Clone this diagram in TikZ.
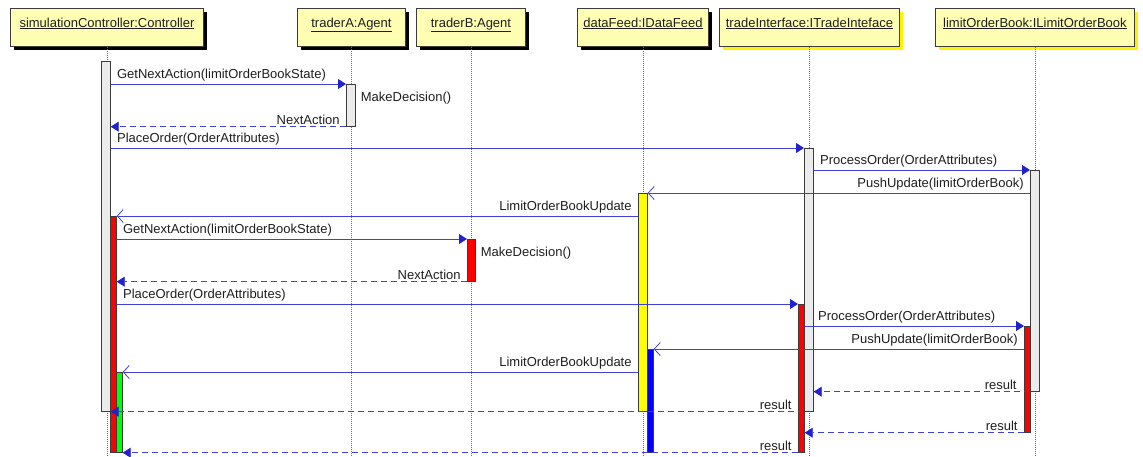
\documentclass[tikz,border=0pt]{standalone}
\usepackage{fontspec}
\setmainfont{Liberation Sans}
\usetikzlibrary{arrows.meta, positioning, shadows}
\definecolor{ink}{HTML}{1E1E1E}
\definecolor{edge}{HTML}{3C3C3C}
\definecolor{objfill}{HTML}{FFFFB4}
\definecolor{actgrey}{HTML}{EBEBEB}
\definecolor{actred}{HTML}{FF0000}
\definecolor{actgreen}{HTML}{00FF00}
\definecolor{actyellow}{HTML}{FFFF00}
\definecolor{actblue}{HTML}{0000FF}
\definecolor{msg}{HTML}{4040DA}
\definecolor{msghead}{HTML}{2222CC}
\definecolor{lifegrey}{HTML}{6E6E6E}
\tikzset{
  font=\fontsize{13}{15}\selectfont,
  %
  obj/.style={
    draw=edge, line width=0.9pt, fill=objfill, text=ink, anchor=north west,
    minimum height=38, inner sep=0pt, text depth=10pt,
    drop shadow={shadow xshift=4pt, shadow yshift=-4pt, fill=#1, opacity=1},
  },
  obj/.default=black,
  %
  act/.style={draw=edge, line width=0.7pt, fill=#1, inner sep=0pt,
              anchor=north west, minimum width=6},
  act/.default=actgrey,
  lifeline/.style={draw=lifegrey, line width=0.6pt, dash pattern=on 1pt off 1pt},
  %
  call/.style={draw=msg, line width=0.8pt,
               -{Triangle[length=8pt, width=10pt, color=msghead]}},
  async/.style={draw=msg, line width=0.8pt, -{Straight Barb[length=6pt, width=13pt]}},
  reply/.style={call, dash pattern=on 6pt off 4pt},
  %
  lbl/.style={text=ink, inner sep=2pt},
  lblr/.style={lbl, pos=0, anchor=south west, xshift=4pt},
  lbll/.style={lbl, pos=0, anchor=south east, xshift=-4pt},
}

\begin{document}
\begin{tikzpicture}[x=1pt, y=-1pt]
\useasboundingbox (0,0) rectangle (1143,456);
\coordinate (bot) at (0,456);

% =========================================================================
% objects and lifelines
% =========================================================================
\node[obj, minimum width=193] (ctl) at (10,8) {\underline{simulationController:Controller}};
\node[obj, minimum width=108] (trA) at (297,8) {\underline{traderA:Agent}};
\node[obj, minimum width=109] (trB) at (416,8) {\underline{traderB:Agent}};
\node[obj, minimum width=131] (feed) at (577,8) {\underline{dataFeed:IDataFeed}};
\node[obj=yellow, minimum width=180] (tif) at (719,8) {\underline{tradeInterface:ITradeInteface}};
\node[obj=yellow, minimum width=199] (lob) at (935,8) {\underline{limitOrderBook:ILimitOrderBook}};

\foreach \o in {ctl, trA, trB, feed, tif, lob}
  \draw[lifeline] (\o.south) -- (\o.south |- bot);

% =========================================================================
% activations
% =========================================================================
\node[act, minimum width=9, minimum height=350] (ctlA) at (101,61) {};
\node[act, minimum width=9, minimum height=42] (trAa) at (346,84) {};
\node[act, minimum width=9, minimum height=263] (tifA) at (804,148) {};
\node[act, minimum width=9, minimum height=221] (lobA) at (1030,170) {};
\node[act=actyellow, minimum width=9, minimum height=218] (feedA) at (638,193) {};
\node[act=actred, minimum height=236] (ctlB) at (110,216) {};
\node[act=actred, minimum width=8, minimum height=42] (trBa) at (467,239) {};
\node[act=actred, minimum height=148] (tifB) at (798,304) {};
\node[act=actred, minimum height=106] (lobB) at (1024,326) {};
\node[act=actblue, minimum height=103] (feedB) at (647,349) {};
\node[act=actgreen, minimum height=80] (ctlC) at (116,372) {};

% =========================================================================
% first round
% =========================================================================
\draw[call] (ctlA.east |- trAa.north) -- (trAa.north west)
  node[lblr] (m1) {GetNextAction(limitOrderBookState)};
\node[lbl, below right=6pt and 3pt of trAa.north east] (md1) {MakeDecision()};
\draw[reply] (trAa.south west) -- (ctlA.east |- trAa.south)
  node[lbll] (m2) {NextAction};
\draw[call] (ctlA.east |- tifA.north) -- (tifA.north west)
  node[lblr] (m3) {PlaceOrder(OrderAttributes)};
\draw[call] (tifA.east |- lobA.north) -- (lobA.north west)
  node[lblr] (m4) {ProcessOrder(OrderAttributes)};
\draw[async] (lobA.west |- feedA.north) -- (feedA.north east)
  node[lbll] (m5) {PushUpdate(limitOrderBook)};
\draw[async] (feedA.west |- ctlB.north) -- (ctlB.north east)
  node[lbll] (m6) {LimitOrderBookUpdate};

% =========================================================================
% second round
% =========================================================================
\draw[call] (ctlB.east |- trBa.north) -- (trBa.north west)
  node[lblr] (m7) {GetNextAction(limitOrderBookState)};
\node[lbl, below right=6pt and 3pt of trBa.north east] (md2) {MakeDecision()};
\draw[reply] (trBa.south west) -- (ctlB.east |- trBa.south)
  node[lbll] (m8) {NextAction};
\draw[call] (ctlB.east |- tifB.north) -- (tifB.north west)
  node[lblr] (m9) {PlaceOrder(OrderAttributes)};
\draw[call] (tifB.east |- lobB.north) -- (lobB.north west)
  node[lblr, xshift=7pt] (m10) {ProcessOrder(OrderAttributes)};
\draw[async] (lobB.west |- feedB.north) -- (feedB.north east)
  node[lbll] (m11) {PushUpdate(limitOrderBook)};
\draw[async] (feedA.west |- ctlC.north) -- (ctlC.north east)
  node[lbll] (m12) {LimitOrderBookUpdate};

% results
\draw[reply] (lobA.south west) -- (tifA.east |- lobA.south)
  node[lbll, xshift=-7pt] (r1) {result};
\draw[reply] (tifA.south west) -- (ctlA.east |- tifA.south)
  node[lbll, xshift=-6pt] (r2) {result};
\draw[reply] (lobB.south west) -- (tifB.east |- lobB.south)
  node[lbll] (r3) {result};
\draw[reply] (tifB.south west) -- (ctlC.east |- tifB.south)
  node[lbll] (r4) {result};

\end{tikzpicture}
\end{document}
